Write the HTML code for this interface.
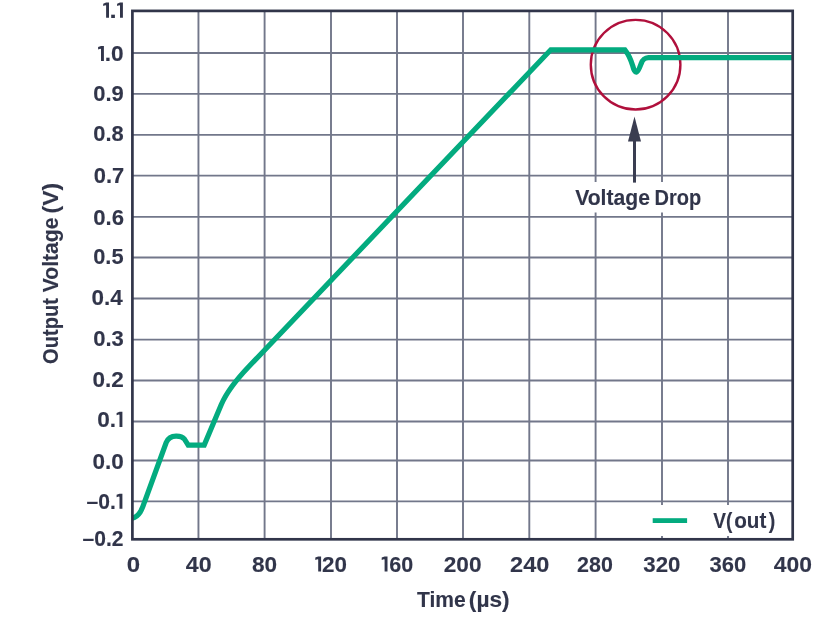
<!DOCTYPE html>
<html><head><meta charset="utf-8"><style>
html,body{margin:0;padding:0;background:#fff;}
body{width:839px;height:622px;overflow:hidden;}
svg{display:block;will-change:transform;font-family:"Liberation Sans",sans-serif;}
</style></head><body>
<svg width="839" height="622" viewBox="0 0 839 622">
<g stroke="#72778a" stroke-width="1.9"><line x1="198.45" y1="10.9" x2="198.45" y2="539.3"/><line x1="264.6" y1="10.9" x2="264.6" y2="539.3"/><line x1="331.0" y1="10.9" x2="331.0" y2="539.3"/><line x1="397.0" y1="10.9" x2="397.0" y2="539.3"/><line x1="463.0" y1="10.9" x2="463.0" y2="539.3"/><line x1="529.3" y1="10.9" x2="529.3" y2="539.3"/><line x1="595.6" y1="10.9" x2="595.6" y2="539.3"/><line x1="662.0" y1="10.9" x2="662.0" y2="539.3"/><line x1="728.0" y1="10.9" x2="728.0" y2="539.3"/><line x1="132.4" y1="53.0" x2="792.7" y2="53.0"/><line x1="132.4" y1="93.9" x2="792.7" y2="93.9"/><line x1="132.4" y1="134.9" x2="792.7" y2="134.9"/><line x1="132.4" y1="175.6" x2="792.7" y2="175.6"/><line x1="132.4" y1="216.9" x2="792.7" y2="216.9"/><line x1="132.4" y1="257.55" x2="792.7" y2="257.55"/><line x1="132.4" y1="298.5" x2="792.7" y2="298.5"/><line x1="132.4" y1="339.6" x2="792.7" y2="339.6"/><line x1="132.4" y1="380.45" x2="792.7" y2="380.45"/><line x1="132.4" y1="421.45" x2="792.7" y2="421.45"/><line x1="132.4" y1="460.5" x2="792.7" y2="460.5"/><line x1="132.4" y1="501.4" x2="792.7" y2="501.4"/></g>
<rect x="570" y="182" width="135" height="30.5" fill="#fff"/>
<rect x="620" y="505" width="170" height="31" fill="#fff"/>
<circle cx="635.6" cy="64.7" r="44.8" fill="none" stroke="#b0103c" stroke-width="2.4"/>
<path d="M132.4,518.2 C135,517.6 138,515.5 140.3,512 C142,509 143,506.5 144.5,502 L166.2,442.5 C168,438.5 171,436.3 176,436.2 C179.5,436.1 182.5,436.8 184.5,439.2 L188.2,445.1 L204.2,445.1 L221.2,404.8 Q228.2,388.2 248.9,366.5 L550.8,49.8 L624.9,49.8 C627.5,53 631,60 632.8,66 C633.8,70 635,72.5 636.6,72 C638.2,71.5 639.5,68 641,64 C642.5,60 644,58 648.5,57.7 L792.7,57.7" fill="none" stroke="#03ab7f" stroke-width="5.2" stroke-linejoin="miter" stroke-miterlimit="10"/>
<rect x="132.4" y="10.9" width="660.3000000000001" height="528.4" fill="none" stroke="#31354a" stroke-width="2.7"/>
<line x1="634.5" y1="141" x2="634.5" y2="182.6" stroke="#3a3d51" stroke-width="3"/>
<path d="M634.5,116.4 L641,141.5 L628,141.5 Z" fill="#3a3d51"/>
<rect x="652.7" y="518.2" width="34.4" height="4.8" fill="#03ab7f"/>
<g fill="#31354a" stroke="#31354a" stroke-width="0.12" font-family="Liberation Sans, sans-serif" font-weight="bold"><path stroke="none" d="M106.10,2.49 H109.00 V17.69 H106.10 Z M106.10,2.49 L103.20,3.69 V6.09 L106.10,5.09 Z"/><text transform="translate(109.40 17.69) scale(1.1688 1)" font-size="22.0">.</text><path stroke="none" d="M120.00,2.49 H122.90 V17.69 H120.00 Z M120.00,2.49 L117.10,3.69 V6.09 L120.00,5.09 Z"/><path stroke="none" d="M101.00,45.89 H103.90 V61.09 H101.00 Z M101.00,45.89 L98.10,47.09 V49.49 L101.00,48.49 Z"/><text transform="translate(104.82 61.09) scale(1.0282 1)" font-size="22.0">.0</text><text transform="translate(93.22 100.69) scale(0.9990 1)" font-size="22.0">0.9</text><text transform="translate(93.22 141.24) scale(0.9952 1)" font-size="22.0">0.8</text><text transform="translate(93.72 183.34) scale(0.9962 1)" font-size="22.0">0.7</text><text transform="translate(93.21 224.69) scale(1.0059 1)" font-size="22.0">0.6</text><text transform="translate(93.23 263.74) scale(0.9914 1)" font-size="22.0">0.5</text><text transform="translate(91.50 304.59) scale(1.0206 1)" font-size="22.0">0.4</text><text transform="translate(93.22 346.19) scale(1.0024 1)" font-size="22.0">0.3</text><text transform="translate(92.60 386.94) scale(1.0236 1)" font-size="22.0">0.2</text><text transform="translate(97.30 426.89) scale(1.0282 1)" font-size="22.0">0.</text><path stroke="none" d="M119.50,411.69 H122.40 V426.89 H119.50 Z M119.50,411.69 L116.60,412.89 V415.29 L119.50,414.29 Z"/><text transform="translate(92.60 469.19) scale(1.0236 1)" font-size="22.0">0.0</text><text transform="translate(86.57 508.84) scale(0.9584 1)" font-size="22.0">–0.</text><path stroke="none" d="M119.50,493.64 H122.40 V508.84 H119.50 Z M119.50,493.64 L116.60,494.84 V497.24 L119.50,496.24 Z"/><text transform="translate(82.47 545.94) scale(0.9576 1)" font-size="22.0">–0.2</text><text transform="translate(126.74 571.60) scale(1.0909 1)" font-size="22.0">0</text><text transform="translate(185.75 571.60) scale(1.0556 1)" font-size="22.0">40</text><text transform="translate(252.02 571.60) scale(1.0271 1)" font-size="22.0">80</text><path stroke="none" d="M318.20,556.40 H321.10 V571.60 H318.20 Z M318.20,556.40 L315.30,557.60 V560.00 L318.20,559.00 Z"/><text transform="translate(322.12 571.60) scale(1.0189 1)" font-size="22.0">20</text><path stroke="none" d="M384.60,556.40 H387.50 V571.60 H384.60 Z M384.60,556.40 L381.70,557.60 V560.00 L384.60,559.00 Z"/><text transform="translate(389.35 571.60) scale(0.9794 1)" font-size="22.0">60</text><text transform="translate(443.71 571.60) scale(1.0292 1)" font-size="22.0">200</text><text transform="translate(510.08 571.60) scale(1.0692 1)" font-size="22.0">240</text><text transform="translate(577.05 571.60) scale(0.9748 1)" font-size="22.0">280</text><text transform="translate(643.34 571.60) scale(1.0114 1)" font-size="22.0">320</text><text transform="translate(709.55 571.60) scale(1.0000 1)" font-size="22.0">360</text><text transform="translate(773.86 571.60) scale(1.0418 1)" font-size="22.0">400</text><text transform="translate(416.94 606.80) scale(0.9759 1)" font-size="21.6">Time</text><text transform="translate(468.86 606.80) scale(1.0512 1)" font-size="21.6">(µs)</text><text transform="translate(575.19 204.80) scale(0.9525 1)" font-size="22.2">Voltage</text><text transform="translate(654.60 204.80) scale(0.9029 1)" font-size="22.2">Drop</text><text transform="translate(713.21 528.00) scale(0.8836 1)" font-size="21.6">V(</text><text transform="translate(734.17 528.00) scale(0.9568 1)" font-size="21.6">out</text><text transform="translate(768.80 528.00) scale(0.9094 1)" font-size="21.6">)</text><text transform="translate(57.6 363.90) rotate(-90) scale(0.9231 1)" font-size="21.8">Output</text><text transform="translate(57.6 292.31) rotate(-90) scale(0.9700 1)" font-size="21.8">Voltage</text><text transform="translate(57.6 213.44) rotate(-90) scale(1.0474 1)" font-size="21.8">(V)</text></g>
</svg>
</body></html>
